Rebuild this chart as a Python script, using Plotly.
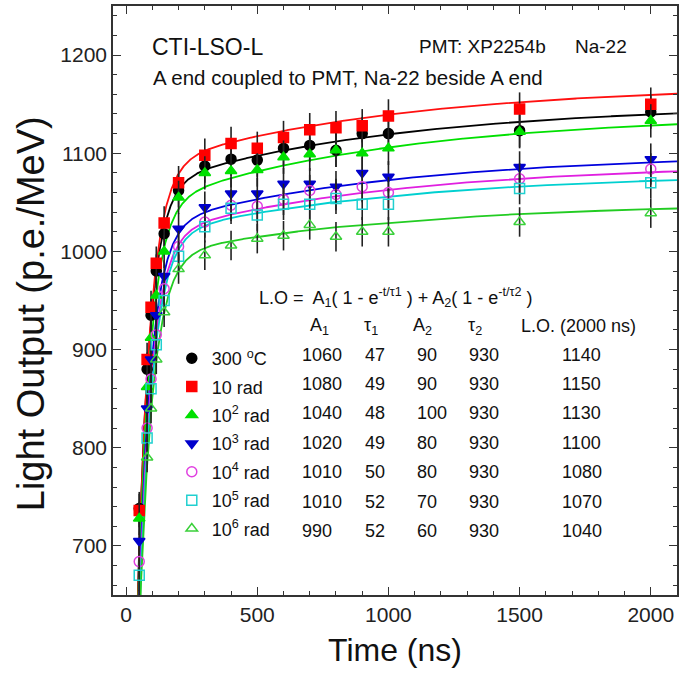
import numpy as np
import plotly.graph_objects as go

# ---------------- data ----------------
time_ns = [50, 80, 95, 115, 145, 200, 300, 400, 500, 600, 700, 800, 900, 1000, 1500, 2000]

series_names = ["300 <sup>o</sup>C", "10 rad", "10<sup>2</sup> rad", "10<sup>3</sup> rad",
                "10<sup>4</sup> rad", "10<sup>5</sup> rad", "10<sup>6</sup> rad"]

lo_300C = [738, 880, 935, 980, 1018, 1062, 1087, 1094, 1093, 1105, 1108, 1103, 1120, 1120, 1123, 1142]
lo_10rad = [736, 890, 943, 988, 1029, 1070, 1098, 1110, 1105, 1116, 1124, 1126, 1128, 1138, 1145, 1150]
lo_1e2rad = [728, 862, 912, 955, 1000, 1055, 1080, 1082, 1083, 1096, 1099, 1103, 1100, 1105, 1122, 1133]
lo_1e3rad = [705, 840, 890, 935, 975, 1023, 1045, 1059, 1059, 1069, 1069, 1066, 1080, 1076, 1086, 1094]
lo_1e4rad = [684, 820, 870, 915, 962, 1005, 1030, 1047, 1046, 1053, 1062, 1058, 1066, 1060, 1074, 1084]
lo_1e5rad = [670, 810, 860, 905, 950, 995, 1025, 1044, 1037, 1048, 1048, 1054, 1048, 1048, 1064, 1070]
lo_1e6rad = [640, 790, 840, 890, 938, 982, 996, 1006, 1013, 1016, 1027, 1015, 1020, 1020, 1030, 1039]

lo_errors = [17, 17, 17, 16, 16, 16, 15]

# fit parameters printed in the chart
A1 = [1060, 1080, 1040, 1020, 1010, 1010, 990]
tau1 = [47, 49, 48, 49, 50, 52, 52]
A2 = [90, 90, 100, 80, 80, 70, 60]
tau2 = [930, 930, 930, 930, 930, 930, 930]
LO_2000 = [1140, 1150, 1130, 1100, 1080, 1070, 1040]

x_ticks = [0, 500, 1000, 1500, 2000]
y_ticks = [700, 800, 900, 1000, 1100, 1200]

# ---------------- styles ----------------
all_series = [lo_300C, lo_10rad, lo_1e2rad, lo_1e3rad, lo_1e4rad, lo_1e5rad, lo_1e6rad]
marker_symbols = ["circle", "square", "triangle-up", "triangle-down",
                  "circle-open", "square-open", "triangle-up-open"]
marker_colors = ["#000000", "#ff0000", "#00e000", "#0000cc", "#e040e0", "#20d0d0", "#3ad03a"]
line_colors = ["#000000", "#ff1010", "#00e000", "#0000dd", "#e020e0", "#00d0d0", "#22cc22"]

FONT = "Liberation Sans, Arial, Helvetica, sans-serif"
W, H = 682, 673
ML, MR, MT, MB = 113, 3, 6, 78
PW, PH = W - ML - MR, H - MT - MB


def px(xp):
    return (xp - ML) / PW


def py(yp):
    return (H - MB - yp) / PH


fig = go.Figure()

t_fit = np.linspace(1, 2100, 1400)
for i in range(len(all_series)):
    lo_fit = A1[i] * (1 - np.exp(-t_fit / tau1[i])) + A2[i] * (1 - np.exp(-t_fit / tau2[i]))
    fig.add_trace(go.Scatter(x=t_fit, y=lo_fit, mode="lines",
                             line=dict(color=line_colors[i], width=1.8),
                             showlegend=False, hoverinfo="skip"))

for i, vals in enumerate(all_series):
    fig.add_trace(go.Scatter(
        x=time_ns, y=vals, mode="markers", name=series_names[i],
        legendgroup="g%d" % i,
        marker=dict(symbol=marker_symbols[i], size=10, color=marker_colors[i],
                    line=dict(width=1.5, color=marker_colors[i])),
        error_y=dict(type="constant", value=lo_errors[i], color="#222222",
                     thickness=1.6, width=0),
    ))

# ---------------- annotations ----------------
ann = []


def add_text(text, x, y, size, xanchor="left", angle=0):
    ann.append(dict(text=text, x=px(x), y=py(y), xref="paper", yref="paper",
                    xanchor=xanchor, yanchor="middle", showarrow=False, textangle=angle,
                    font=dict(family=FONT, size=size, color="#111111")))


add_text("CTI-LSO-L", 150, 47, 23)
add_text("PMT: XP2254b", 418, 47, 19)
add_text("Na-22", 575, 47, 19)
add_text("A end coupled to PMT, Na-22 beside A end", 151, 77, 20.5)

add_text("L.O =  A<sub>1</sub>( 1 - e<sup>-t/τ1</sup> ) + A<sub>2</sub>( 1 - e<sup>-t/τ2</sup> )",
         258, 297, 18)
add_text("A<sub>1</sub>", 320, 326, 18, "center")
add_text("τ<sub>1</sub>", 372, 326, 18, "center")
add_text("A<sub>2</sub>", 424, 326, 18, "center")
add_text("τ<sub>2</sub>", 476, 326, 18, "center")
add_text("L.O. (2000 ns)", 580, 326, 18, "center")

row_y = [355, 384, 413, 443, 472, 502, 531]
for i in range(len(A1)):
    add_text(str(A1[i]), 301, row_y[i], 18)
    add_text(str(tau1[i]), 364, row_y[i], 18)
    add_text(str(A2[i]), 416, row_y[i], 18)
    add_text(str(tau2[i]), 468, row_y[i], 18)
    add_text(str(LO_2000[i]), 562, row_y[i], 18)

# y-axis title placed as rotated text
ann.append(dict(text="Light Output (p.e./MeV)", x=-0.145, y=py(314), xref="paper", yref="paper",
                xanchor="center", yanchor="middle", showarrow=False, textangle=-90,
                font=dict(family=FONT, size=38, color="#111111")))

axis_common = dict(
    showline=True, linecolor="#333333", linewidth=1.5, mirror="allticks",
    ticks="inside", ticklen=8, tickwidth=1.3, tickcolor="#333333",
    showgrid=False, zeroline=False,
    tickfont=dict(family=FONT, size=21, color="#222222"),
)

fig.update_layout(
    width=W, height=H,
    margin=dict(l=ML, r=MR, t=MT, b=MB),
    paper_bgcolor="white", plot_bgcolor="white",
    font=dict(family=FONT, color="#111111"),
    annotations=ann,
    showlegend=True,
    legend=dict(x=px(172), y=py(340), xanchor="left", yanchor="top",
                bgcolor="rgba(0,0,0,0)", borderwidth=0,
                font=dict(family=FONT, size=18, color="#111111"),
                tracegroupgap=2, itemclick=False),
    xaxis=dict(range=[-50, 2100], tickvals=x_ticks,
               minor=dict(dtick=100, ticks="inside", ticklen=4, tickcolor="#333333", tickwidth=1.1),
               title=dict(text="Time (ns)", font=dict(family=FONT, size=32, color="#111111"), standoff=14),
               **axis_common),
    yaxis=dict(range=[650, 1250], tickvals=y_ticks,
               minor=dict(dtick=20, ticks="inside", ticklen=4, tickcolor="#333333", tickwidth=1.1),
               **axis_common),
)

fig.write_html("out.html")
